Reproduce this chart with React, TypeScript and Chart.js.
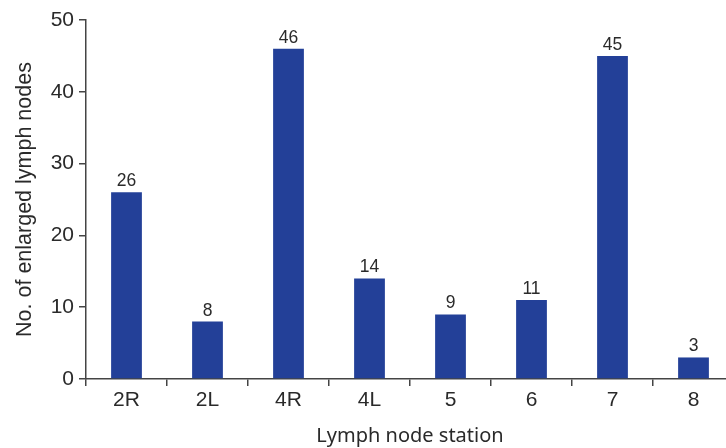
import React, { useEffect, useRef } from "react";
import { Chart, registerables } from "chart.js";

Chart.register(...registerables);

const categories = ["2R", "2L", "4R", "4L", "5", "6", "7", "8"];
const counts = [26, 8, 46, 14, 9, 11, 45, 3];
const yTicks = [0, 10, 20, 30, 40, 50];

const BAR_COLOR = "#234098";
const AXIS_COLOR = "#444";
const TEXT_COLOR = "#2a2a2a";
const FONT = "'Liberation Sans', Arial, sans-serif";
const TITLE_FONT = "'Noto Sans', 'Liberation Sans', sans-serif";

const valueLabels = {
  id: "valueLabels",
  afterDatasetsDraw(chart: any) {
    const ctx = chart.ctx;
    const meta = chart.getDatasetMeta(0);
    ctx.save();
    ctx.font = `17.5px ${FONT}`;
    ctx.fillStyle = TEXT_COLOR;
    ctx.textAlign = "center";
    ctx.textBaseline = "alphabetic";
    meta.data.forEach((bar: any, i: number) => {
      ctx.fillText(String(counts[i]), bar.x, bar.y - 6);
    });
    ctx.restore();
  },
};

export default function App() {
  const ref = useRef<HTMLCanvasElement | null>(null);
  useEffect(() => {
    if (!ref.current) return;
    const chart = new Chart(ref.current, {
      type: "bar",
      data: {
        labels: categories,
        datasets: [
          {
            data: counts,
            backgroundColor: BAR_COLOR,
            barPercentage: 0.38,
            categoryPercentage: 1,
          },
        ],
      },
      options: {
        animation: false,
        responsive: true,
        maintainAspectRatio: false,
        layout: { padding: { top: 20, right: 0, left: 0, bottom: 0 } },
        plugins: {
          legend: { display: false },
          tooltip: { enabled: false },
        },
        scales: {
          x: {
            afterFit: (s: any) => {
              s.height = 69;
            },
            grid: {
              display: true,
              drawOnChartArea: false,
              offset: true,
              tickLength: 7,
              color: AXIS_COLOR,
              lineWidth: 1.5,
            },
            border: { display: true, color: AXIS_COLOR, width: 1.5 },
            ticks: {
              color: TEXT_COLOR,
              font: { family: FONT, size: 21 },
              padding: 2,
              maxRotation: 0,
            },
            title: {
              display: true,
              text: "Lymph node station",
              color: TEXT_COLOR,
              font: { family: TITLE_FONT, size: 20 },
              padding: { top: 0, bottom: 0 },
            },
          },
          y: {
            min: 0,
            max: 50,
            afterFit: (s: any) => {
              s.width = 86;
            },
            afterBuildTicks: (s: any) => {
              s.ticks = yTicks.map((v) => ({ value: v }));
            },
            grid: {
              display: true,
              drawOnChartArea: false,
              tickLength: 7,
              color: AXIS_COLOR,
              lineWidth: 1.5,
            },
            border: { display: true, color: AXIS_COLOR, width: 1.5 },
            ticks: {
              color: TEXT_COLOR,
              font: { family: FONT, size: 21 },
              padding: 5,
            },
            title: {
              display: true,
              text: "No. of enlarged lymph nodes",
              color: TEXT_COLOR,
              font: { family: FONT, size: 21.5 },
              padding: { top: 12, bottom: 0 },
            },
          },
        },
      },
      plugins: [valueLabels],
    });
    return () => chart.destroy();
  }, []);

  return (
    <div
      style={{
        position: "fixed",
        left: 0,
        top: 0,
        width: 726,
        height: 448,
        overflow: "hidden",
        background: "#fff",
      }}
    >
      <div style={{ position: "relative", width: 734, height: 448 }}>
        <canvas ref={ref} />
      </div>
    </div>
  );
}
